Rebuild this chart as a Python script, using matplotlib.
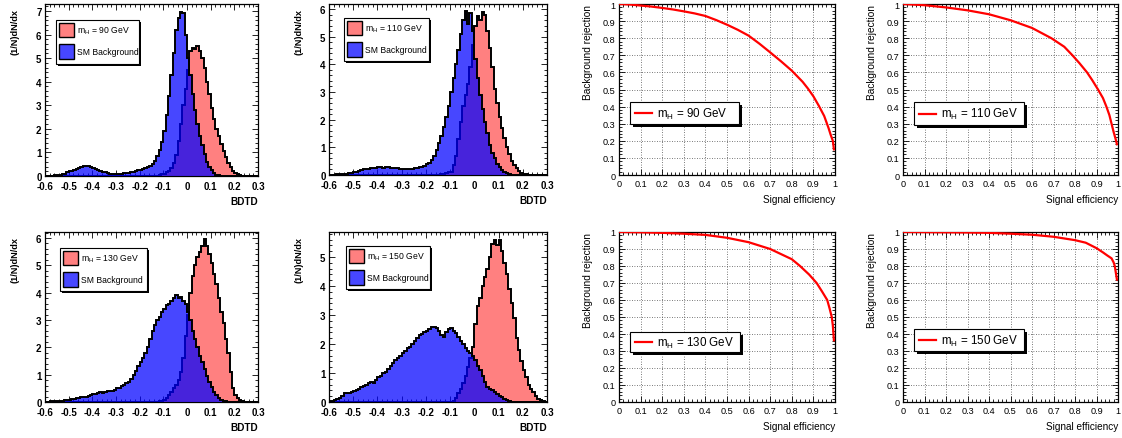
import numpy as np
import matplotlib
matplotlib.use("Agg")
import matplotlib.pyplot as plt
from matplotlib.patches import Rectangle
from matplotlib.lines import Line2D
from matplotlib.ticker import MultipleLocator

plt.rcParams['font.family'] = ['Liberation Sans', 'DejaVu Sans']
plt.rcParams['axes.unicode_minus'] = False
plt.rcParams['mathtext.default'] = 'regular'

# ---------------- data ----------------
masses = [90, 110, 130, 150]
bdt_edges = np.round(np.linspace(-0.60, 0.30, 91), 3)   # 0.01 wide bins

sig_90 = [0]*40 + [
    0, 0, 0, 0, 0, 0, 0, 0.02, 0.05, 0.08,
    0.1, 0.15, 0.22, 0.35, 0.55, 0.9, 1.5, 2.2, 3.0, 3.7,
    4.5, 5.3, 5.45, 5.4, 5.5, 5.3, 5.0, 4.6, 4.0, 3.5,
    2.9, 2.4, 2.0, 1.7, 1.35, 1.05, 0.8, 0.55, 0.38, 0.22,
    0.13, 0.07, 0.03, 0.02, 0.01, 0, 0, 0, 0, 0]
bkg_90 = [
    0, 0, 0.01, 0.02, 0.03, 0.05, 0.06, 0.08, 0.1, 0.15,
    0.2, 0.22, 0.26, 0.3, 0.36, 0.4, 0.42, 0.41, 0.42, 0.38,
    0.35, 0.3, 0.27, 0.22, 0.18, 0.15, 0.12, 0.1, 0.1, 0.08,
    0.08, 0.09, 0.1, 0.11, 0.12, 0.14, 0.17, 0.19, 0.21, 0.24,
    0.27, 0.3, 0.34, 0.38, 0.44, 0.52, 0.65, 0.85, 1.1, 1.45,
    1.9, 2.6, 3.4, 4.3, 5.2, 6.2, 6.7, 6.95, 6.9, 6.0,
    5.0, 4.3, 3.5, 2.8, 2.2, 1.7, 1.3, 0.95, 0.6, 0.4,
    0.25, 0.13, 0.06, 0.03, 0.01, 0, 0, 0, 0, 0,
    0, 0, 0, 0, 0, 0, 0, 0, 0, 0]

sig_110 = [0]*40 + [
    0, 0, 0, 0, 0, 0, 0.02, 0.04, 0.06, 0.1,
    0.12, 0.35, 0.7, 1.3, 1.9, 2.5, 2.9, 3.3, 3.9, 4.7,
    5.4, 5.75, 5.6, 5.88, 5.8, 5.2, 4.6, 3.9, 3.1, 2.6,
    2.1, 1.7, 1.35, 1.0, 0.75, 0.5, 0.35, 0.25, 0.15, 0.08,
    0.04, 0.02, 0.01, 0, 0, 0, 0, 0, 0, 0]
bkg_110 = [
    0, 0, 0.01, 0.02, 0.02, 0.03, 0.04, 0.05, 0.07, 0.08,
    0.1, 0.12, 0.15, 0.18, 0.2, 0.22, 0.23, 0.25, 0.27, 0.26,
    0.28, 0.3, 0.27, 0.28, 0.3, 0.27, 0.25, 0.26, 0.24, 0.22,
    0.22, 0.2, 0.22, 0.23, 0.22, 0.25, 0.26, 0.28, 0.3, 0.33,
    0.38, 0.45, 0.55, 0.7, 0.9, 1.15, 1.4, 1.75, 2.1, 2.5,
    3.0, 3.5, 4.0, 4.5, 5.1, 5.6, 5.94, 5.45, 5.85, 5.2,
    4.2, 3.5, 2.9, 2.4, 1.9, 1.5, 1.1, 0.8, 0.6, 0.4,
    0.28, 0.18, 0.1, 0.06, 0.03, 0.01, 0, 0, 0, 0,
    0, 0, 0, 0, 0, 0, 0, 0, 0, 0]

sig_130 = [0]*40 + [
    0, 0, 0, 0, 0, 0, 0, 0, 0.02, 0.04,
    0.07, 0.15, 0.25, 0.36, 0.5, 0.62, 0.8, 1.1, 1.6, 2.4,
    3.2, 4.0, 4.6, 5.0, 5.3, 5.5, 5.7, 5.95, 5.7, 5.4,
    5.1, 4.7, 4.3, 3.8, 3.3, 2.9, 2.3, 1.8, 1.1, 0.5,
    0.25, 0.15, 0.06, 0.03, 0.01, 0, 0, 0, 0, 0]
bkg_130 = [
    0, 0.01, 0.02, 0.02, 0.03, 0.04, 0.05, 0.05, 0.06, 0.07,
    0.08, 0.1, 0.12, 0.13, 0.15, 0.17, 0.18, 0.2, 0.22, 0.25,
    0.28, 0.3, 0.32, 0.35, 0.33, 0.38, 0.4, 0.42, 0.42, 0.45,
    0.5, 0.52, 0.58, 0.62, 0.68, 0.75, 0.85, 1.0, 1.15, 1.3,
    1.45, 1.6, 1.8, 2.0, 2.3, 2.6, 2.8, 3.0, 3.1, 3.3,
    3.4, 3.55, 3.6, 3.7, 3.8, 3.9, 3.8, 3.85, 3.7, 3.6,
    3.3, 3.0, 2.6, 2.3, 2.0, 1.7, 1.45, 1.2, 0.95, 0.75,
    0.55, 0.38, 0.25, 0.15, 0.08, 0.04, 0.02, 0.01, 0, 0,
    0, 0, 0, 0, 0, 0, 0, 0, 0, 0]

sig_150 = [0]*50 + [
    0.01, 0.03, 0.15, 0.3, 0.45, 0.65, 0.9, 1.2, 1.5, 1.9,
    2.7, 3.3, 3.6, 4.0, 4.3, 4.6, 5.0, 5.45, 5.6, 5.4,
    5.6, 5.2, 4.8, 4.4, 3.9, 3.4, 2.9, 2.2, 1.8, 1.4,
    1.1, 0.85, 0.6, 0.45, 0.33, 0.22, 0.12, 0.06, 0.03, 0.01]
bkg_150 = [
    0.02, 0.05, 0.08, 0.12, 0.15, 0.2, 0.3, 0.32, 0.3, 0.35,
    0.38, 0.42, 0.45, 0.5, 0.55, 0.6, 0.65, 0.68, 0.66, 0.75,
    0.85, 0.9, 1.0, 1.05, 1.15, 1.25, 1.35, 1.45, 1.5, 1.6,
    1.7, 1.75, 1.85, 1.9, 2.0, 2.1, 2.2, 2.3, 2.35, 2.4,
    2.45, 2.5, 2.58, 2.6, 2.55, 2.45, 2.3, 2.25, 2.4, 2.5,
    2.55, 2.45, 2.38, 2.25, 2.1, 2.0, 1.85, 1.75, 1.7, 1.6,
    1.45, 1.25, 1.1, 0.9, 0.7, 0.52, 0.45, 0.4, 0.33, 0.28,
    0.22, 0.17, 0.12, 0.07, 0.03, 0.01, 0, 0, 0, 0,
    0, 0, 0, 0, 0, 0, 0, 0, 0, 0]

signal_hists = [sig_90, sig_110, sig_130, sig_150]
background_hists = [bkg_90, bkg_110, bkg_130, bkg_150]
hist_ymax = [7.3, 6.18, 6.22, 5.86]

# ROC curves: signal efficiency vs background rejection
eff_90 = [0, 0.05, 0.1, 0.15, 0.2, 0.25, 0.3, 0.35, 0.4, 0.45, 0.5, 0.55, 0.6, 0.65,
          0.7, 0.75, 0.8, 0.85, 0.875, 0.9, 0.925, 0.95, 0.96, 0.97, 0.98, 0.99, 0.995]
rej_90 = [1.0, 0.997, 0.991, 0.985, 0.977, 0.968, 0.957, 0.945, 0.93, 0.906, 0.879, 0.849,
          0.815, 0.768, 0.717, 0.665, 0.61, 0.545, 0.505, 0.46, 0.405, 0.345, 0.31, 0.275,
          0.235, 0.2, 0.15]
eff_110 = [0, 0.1, 0.2, 0.3, 0.4, 0.5, 0.6, 0.69, 0.75, 0.788, 0.82, 0.856, 0.88, 0.907,
           0.93, 0.946, 0.96, 0.97, 0.98, 0.989, 0.995]
rej_110 = [1.0, 0.993, 0.98, 0.963, 0.94, 0.905, 0.86, 0.8, 0.75, 0.7, 0.655, 0.6, 0.555,
           0.5, 0.45, 0.4, 0.35, 0.3, 0.25, 0.21, 0.18]
eff_130 = [0, 0.1, 0.2, 0.3, 0.4, 0.5, 0.6, 0.7, 0.75, 0.8, 0.838, 0.88, 0.915, 0.94,
           0.964, 0.975, 0.985, 0.99, 0.995]
rej_130 = [1.0, 0.998, 0.995, 0.99, 0.983, 0.966, 0.94, 0.9, 0.87, 0.84, 0.8, 0.75, 0.7,
           0.65, 0.6, 0.55, 0.5, 0.45, 0.363]
eff_150 = [0, 0.1, 0.2, 0.3, 0.4, 0.5, 0.6, 0.7, 0.8, 0.85, 0.9, 0.93, 0.95, 0.97, 0.98,
           0.985, 0.99, 0.995]
rej_150 = [1.0, 0.999, 0.998, 0.997, 0.995, 0.99, 0.984, 0.972, 0.952, 0.937, 0.905, 0.88,
           0.862, 0.845, 0.82, 0.8, 0.76, 0.72]
roc_eff = [eff_90, eff_110, eff_130, eff_150]
roc_rej = [rej_90, rej_110, rej_130, rej_150]

# ---------------- layout helpers ----------------
W, H = 1122, 439
fig = plt.figure(figsize=(W / 100, H / 100), dpi=100)


def fx(x):
    return x / W


def fy(y):
    return 1 - y / H


def axes_px(l, t, r, b):
    return fig.add_axes([fx(l), fy(b), (r - l) / W, (b - t) / H])


def rect_px(x0, y0, x1, y1, **kw):
    r = Rectangle((fx(x0), fy(y1)), (x1 - x0) / W, (y1 - y0) / H,
                  transform=fig.transFigure, **kw)
    fig.add_artist(r)
    return r


def fmt(v):
    v = round(float(v), 2) + 0.0
    return f"{v:g}"


def style_axes(ax, xpad=2.5):
    ax.tick_params(which='both', direction='in', top=True, right=True,
                   width=0.6, pad=2.5, colors='black')
    ax.tick_params(axis='x', which='both', pad=xpad)
    ax.tick_params(which='major', length=4.2)
    ax.tick_params(which='minor', length=2.2)
    for s in ax.spines.values():
        s.set_linewidth(0.9)


RED = '#ff8080'
BLUE = (0.0, 0.0, 1.0, 0.72)

hist_axes_px = [(45, 5, 258, 177), (329, 5, 547, 176),
                (45, 233, 258, 403), (329, 233, 547, 403)]
hist_leg_px = [(56, 21, 139, 65), (344, 19, 429, 62),
               (60, 249, 147, 292), (346, 247, 430, 290)]

roc_axes_px = [(619, 5, 835, 176), (903, 5, 1118, 176),
               (619, 233, 835, 403), (903, 233, 1118, 403)]
roc_leg_px = [(630, 103, 739, 125), (914, 103, 1024, 126),
              (630, 333, 740, 353), (914, 330, 1024, 352)]

xt = np.round(np.arange(-0.6, 0.301, 0.1), 1)

for i, m in enumerate(masses):
    l, t, r, b = hist_axes_px[i]
    ax = axes_px(l, t, r, b)
    sig = np.array(signal_hists[i], dtype=float)
    bkg = np.array(background_hists[i], dtype=float)
    ax.stairs(sig, bdt_edges, fill=True, facecolor=RED, edgecolor='none', zorder=2)
    ax.stairs(sig, bdt_edges, fill=False, color='black', lw=1.4, zorder=2.1)
    ax.stairs(bkg, bdt_edges, fill=True, facecolor=BLUE, edgecolor='none', zorder=3)
    ax.stairs(bkg, bdt_edges, fill=False, color='black', lw=1.4, zorder=3.1)
    ax.set_xlim(-0.6, 0.3)
    ax.set_ylim(0, hist_ymax[i])
    style_axes(ax, xpad=3.3)
    ax.set_xticks(xt, [fmt(v) for v in xt], fontsize=7, fontweight='bold')
    yt = np.arange(0, int(hist_ymax[i]) + 1)
    ax.set_yticks(yt, [fmt(v) for v in yt], fontsize=7, fontweight='bold')
    ax.xaxis.set_minor_locator(MultipleLocator(0.02))
    ax.yaxis.set_minor_locator(MultipleLocator(0.2))
    # axis titles
    fig.text(fx(r), fy(b + 25), 'BDTD', ha='right', va='center',
             fontsize=7.2, fontweight='bold')
    fig.text(fx(l - 30), fy(t + 4), '(1/N)dN/dx', ha='center', va='top',
             rotation=90, fontsize=6.6, fontweight='bold')
    # legend
    x0, y0, x1, y1 = hist_leg_px[i]
    rect_px(x0 + 2, y0 + 2, x1 + 2, y1 + 2, facecolor='black', edgecolor='black', lw=0, zorder=5)
    rect_px(x0, y0, x1, y1, facecolor='white', edgecolor='black', lw=0.8, zorder=6)
    rect_px(x0 + 3, y0 + 3, x0 + 18, y0 + 17, facecolor=RED, edgecolor='black', lw=1.0, zorder=7)
    rect_px(x0 + 3, y0 + 24, x0 + 18, y0 + 39, facecolor=BLUE, edgecolor='black', lw=1.0, zorder=7)
    fig.text(fx(x0 + 21), fy(y0 + 10.5), rf'm$_{{H}}$ = {m} GeV', ha='left', va='center',
             fontsize=6.2, zorder=8)
    fig.text(fx(x0 + 21), fy(y0 + 31.5), 'SM Background', ha='left', va='center',
             fontsize=6.2, zorder=8)

rt = np.round(np.arange(0, 1.001, 0.1), 1)
for i, m in enumerate(masses):
    l, t, r, b = roc_axes_px[i]
    ax = axes_px(l, t, r, b)
    ax.plot(roc_eff[i], roc_rej[i], color='red', lw=1.6, zorder=3)
    ax.set_xlim(0, 1)
    ax.set_ylim(0, 1)
    style_axes(ax, xpad=3.0)
    ax.set_xticks(rt, [fmt(v) for v in rt], fontsize=6.6)
    ax.set_yticks(rt, [fmt(v) for v in rt], fontsize=6.6)
    ax.xaxis.set_minor_locator(MultipleLocator(0.02))
    ax.yaxis.set_minor_locator(MultipleLocator(0.02))
    ax.grid(True, which='major', color='0.3', ls=(0, (1, 2)), lw=0.6)
    fig.text(fx(r), fy(b + 24), 'Signal efficiency', ha='right', va='center', fontsize=7.2)
    fig.text(fx(l - 31), fy(t), 'Background rejection', ha='center', va='top',
             rotation=90, fontsize=7.3)
    x0, y0, x1, y1 = roc_leg_px[i]
    rect_px(x0 + 3, y0 + 3, x1 + 3, y1 + 3, facecolor='black', edgecolor='black', lw=0, zorder=5)
    rect_px(x0, y0, x1, y1, facecolor='white', edgecolor='black', lw=0.8, zorder=6)
    ym = (y0 + y1) / 2
    fig.add_artist(Line2D([fx(x0 + 5), fx(x0 + 22)], [fy(ym), fy(ym)], color='red', lw=1.6,
                          transform=fig.transFigure, zorder=7))
    fig.text(fx(x0 + 27), fy(ym), rf'm$_{{H}}$ = {m} GeV', ha='left', va='center',
             fontsize=8.4, zorder=8)

fig.savefig('out.png', dpi=100)
